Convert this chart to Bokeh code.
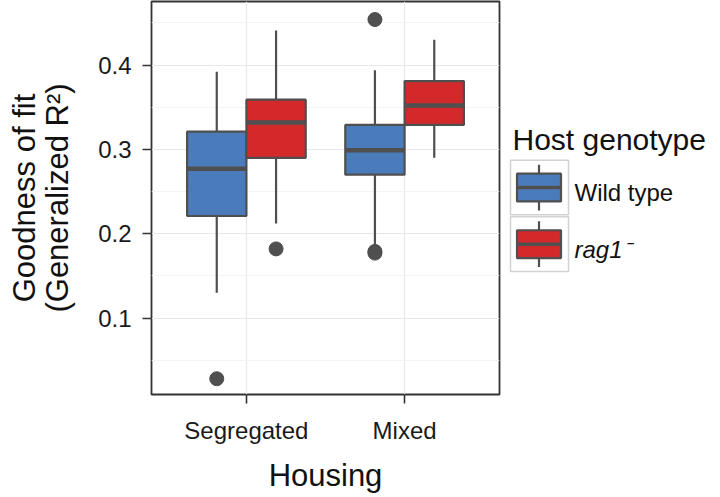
from bokeh.plotting import figure
from bokeh.models import ColumnDataSource, FactorRange, Range1d, FixedTicker
from bokeh.transform import dodge
from bokeh.layouts import row
from bokeh.core.properties import value
from bokeh.embed import file_html
from bokeh.resources import INLINE

# ---------------- data ----------------
housing = ["Segregated", "Mixed"]
genotypes = ["Wild type", "rag1\u207b"]
genotype_colors = ["#4a7cbc", "#d3292a"]

box_housing = ["Segregated", "Segregated", "Mixed", "Mixed"]
box_genotype = ["Wild type", "rag1\u207b", "Wild type", "rag1\u207b"]
whisker_low = [0.130, 0.212, 0.185, 0.290]
q1 = [0.221, 0.290, 0.270, 0.329]
median = [0.277, 0.332, 0.299, 0.352]
q3 = [0.321, 0.359, 0.329, 0.381]
whisker_high = [0.392, 0.441, 0.394, 0.430]

outlier_housing = ["Segregated", "Segregated", "Mixed", "Mixed", "Mixed"]
outlier_genotype = ["Wild type", "rag1\u207b", "Wild type", "Wild type", "Wild type"]
outlier_value = [0.028, 0.182, 0.454, 0.179, 0.177]

y_ticks = [0.1, 0.2, 0.3, 0.4]
y_minor = [0.05, 0.15, 0.25, 0.35, 0.45]

FONT = "Liberation Sans"
DARK = "#4f4f4f"

H = 495
BORDER_TOP, BORDER_BOTTOM = 1, 98
FRAME_BOTTOM = H - BORDER_BOTTOM

# ---------------- main plot ----------------
p = figure(width=501, height=H, x_range=FactorRange(factors=housing, range_padding=0.1),
           y_range=Range1d(0.0093, 0.4754), output_backend="svg", toolbar_location=None,
           min_border_left=151, min_border_right=2, min_border_top=BORDER_TOP,
           min_border_bottom=BORDER_BOTTOM,
           background_fill_color="white", border_fill_color="white")

offsets = [-0.1875, 0.1875]
for g, col, off in zip(genotypes, genotype_colors, offsets):
    idx = [i for i, gg in enumerate(box_genotype) if gg == g]
    src = ColumnDataSource(dict(
        housing=[box_housing[i] for i in idx],
        lo=[whisker_low[i] for i in idx],
        q1=[q1[i] for i in idx],
        med=[median[i] for i in idx],
        q3=[q3[i] for i in idx],
        hi=[whisker_high[i] for i in idx],
    ))
    xc = dodge("housing", off, range=p.x_range)
    p.segment(x0=xc, x1=xc, y0="q3", y1="hi", source=src, line_color=DARK, line_width=2.2)
    p.segment(x0=xc, x1=xc, y0="lo", y1="q1", source=src, line_color=DARK, line_width=2.2)
    p.vbar(x=xc, width=0.375, top="q3", bottom="q1", source=src,
           fill_color=col, line_color=DARK, line_width=2.2)
    p.segment(x0=dodge("housing", off - 0.1875, range=p.x_range),
              x1=dodge("housing", off + 0.1875, range=p.x_range),
              y0="med", y1="med", source=src, line_color=DARK, line_width=4.5)

    oidx = [i for i, gg in enumerate(outlier_genotype) if gg == g]
    osrc = ColumnDataSource(dict(housing=[outlier_housing[i] for i in oidx],
                                 val=[outlier_value[i] for i in oidx]))
    p.scatter(x=dodge("housing", off, range=p.x_range), y="val", source=osrc,
              size=14, fill_color=DARK, line_color=DARK)

p.yaxis.ticker = FixedTicker(ticks=y_ticks, minor_ticks=y_minor)
p.xaxis.axis_label = "Housing"
p.yaxis.axis_label = "Goodness of fit\n(Generalized R\u00b2)"

for ax in (p.xaxis[0], p.yaxis[0]):
    ax.axis_line_color = None
    ax.major_tick_line_color = "#333333"
    ax.major_tick_line_width = 1.6
    ax.major_tick_out = 9
    ax.major_tick_in = 0
    ax.minor_tick_line_color = None
    ax.major_label_text_font = FONT
    ax.major_label_text_font_size = "24px"
    ax.major_label_text_color = "#1a1a1a"
    ax.axis_label_text_font = FONT
    ax.axis_label_text_font_size = "31px"
    ax.axis_label_text_font_style = "normal"
    ax.axis_label_text_color = "#111111"
    ax.axis_label_text_line_height = 0.95

p.xaxis.major_label_standoff = 13
p.xaxis.axis_label_standoff = 11
p.yaxis.major_label_standoff = 11
p.yaxis.axis_label_standoff = 20

p.xgrid.grid_line_color = "#e8e8e8"
p.xgrid.grid_line_width = 1.2
p.ygrid.grid_line_color = "#e8e8e8"
p.ygrid.grid_line_width = 1.2
p.ygrid.minor_grid_line_color = "#f3f3f3"
p.ygrid.minor_grid_line_width = 1.2

p.outline_line_color = "#333333"
p.outline_line_width = 1.8

# ---------------- legend panel (drawn in pixel-like coordinates) ----------------
LW = 211
leg = figure(width=LW, height=H, x_range=Range1d(0, LW),
             y_range=Range1d(FRAME_BOTTOM, BORDER_TOP),
             output_backend="svg", toolbar_location=None,
             min_border_left=0, min_border_right=0, min_border_top=BORDER_TOP,
             min_border_bottom=BORDER_BOTTOM, x_axis_location=None, y_axis_location=None,
             background_fill_color="white", border_fill_color="white")
leg.grid.visible = False
leg.outline_line_color = None

key_size = 55
kx0 = 9
key_top = [161, 218]
kcx = kx0 + key_size / 2 + 1
key_src = ColumnDataSource(dict(
    left=[kx0] * 2, right=[kx0 + key_size + 3] * 2,
    top=key_top, bottom=[t + key_size for t in key_top],
    cy=[t + key_size / 2 for t in key_top],
    wt=[t + key_size / 2 - 23 for t in key_top],
    wb=[t + key_size / 2 + 23 for t in key_top],
    bt=[t + key_size / 2 - 14 for t in key_top],
    bb=[t + key_size / 2 + 14 for t in key_top],
    ty=[t + key_size / 2 + 5 for t in key_top],
    color=genotype_colors, label=genotypes,
    style=["normal", "italic"],
))
leg.quad(left="left", right="right", top="top", bottom="bottom", source=key_src,
         fill_color="white", line_color="#d2d2d2", line_width=1.5)
leg.segment(x0=kcx, x1=kcx, y0="wt", y1="wb", source=key_src, line_color=DARK, line_width=2.2)
leg.quad(left=kcx - 22, right=kcx + 22, top="bt", bottom="bb", source=key_src,
         fill_color="color", line_color=DARK, line_width=2.2)
leg.segment(x0=kcx - 22, x1=kcx + 22, y0="cy", y1="cy", source=key_src,
            line_color=DARK, line_width=3.5)
leg.text(x=kx0 + key_size + 9, y="ty", text="label", source=key_src,
         text_font=value(FONT), text_font_size=value("24px"), text_font_style="style",
         text_baseline="alphabetic", text_color="#111111")
leg.text(x=[11], y=[140], text=["Host genotype"], text_font=value(FONT),
         text_font_size=value("30px"), text_baseline="alphabetic", text_color="#111111")

lay = row(p, leg)
open("out.html", "w").write(file_html(lay, INLINE))
